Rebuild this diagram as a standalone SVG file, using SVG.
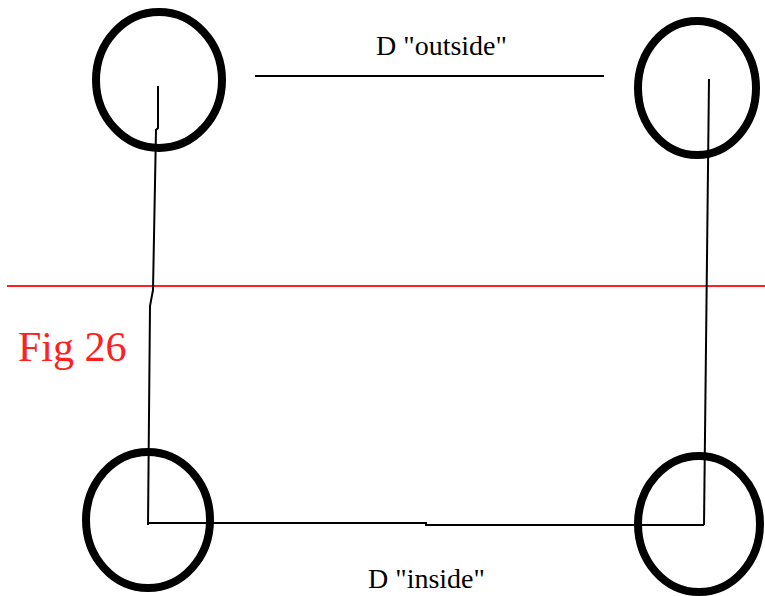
<svg xmlns="http://www.w3.org/2000/svg" width="765" height="596" viewBox="0 0 765 596">
<style>
.ring{fill:none;stroke:#000;stroke-width:8}
.wire{fill:none;stroke:#000;stroke-width:2}
.lbl{font-family:"Liberation Serif","Times New Roman",serif;font-size:28px;fill:#000}
.fig{font-family:"Liberation Serif","Times New Roman",serif;font-size:42px;fill:#ff2020}
</style>
<rect width="765" height="596" fill="#fff"/>
<line x1="7" y1="286" x2="765" y2="286" stroke="#ff2020" stroke-width="2"/>
<text class="fig" x="18" y="361">Fig 26</text>
<g id="connectors">
<polyline class="wire" points="158,86 158,128 156,130 153,290 150,306 148,525"/>
<polyline class="wire" points="709,79 704,525"/>
<polyline class="wire" points="148,523 426,523 426,525 704,525"/>
<line class="wire" x1="255" y1="76" x2="604" y2="76"/>
</g>
<g id="circle-tl"><ellipse class="ring" cx="159" cy="80" rx="63" ry="68"/></g>
<g id="circle-tr"><ellipse class="ring" cx="697" cy="88" rx="59" ry="67"/></g>
<g id="circle-bl"><ellipse class="ring" cx="148" cy="520" rx="62" ry="68"/></g>
<g id="circle-br"><ellipse class="ring" cx="699" cy="524" rx="61" ry="68"/></g>
<text class="lbl" x="376" y="55">D "outside"</text>
<text class="lbl" x="368" y="588">D "inside"</text>
</svg>
